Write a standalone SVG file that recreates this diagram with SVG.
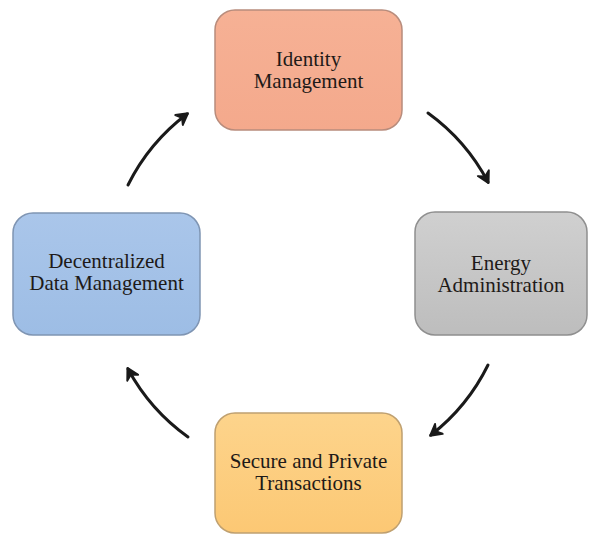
<svg xmlns="http://www.w3.org/2000/svg" width="591" height="535" viewBox="0 0 591 535">
<defs>
<style>
.box{stroke-width:1.5}
.lbl{font-family:"Liberation Serif","Times New Roman",serif;font-size:21px;fill:#1e1a18;text-anchor:middle}
.conn{fill:none;stroke:#1a1a1a;stroke-width:3;stroke-linecap:round;marker-end:url(#ah)}
</style>
<linearGradient id="gOr" x1="0" y1="0" x2="0" y2="1"><stop offset="0" stop-color="#f6b195"/><stop offset="1" stop-color="#f4a98c"/></linearGradient>
<linearGradient id="gGr" x1="0" y1="0" x2="0" y2="1"><stop offset="0" stop-color="#d0d0d0"/><stop offset="1" stop-color="#bdbdbd"/></linearGradient>
<linearGradient id="gYe" x1="0" y1="0" x2="0" y2="1"><stop offset="0" stop-color="#fdd48c"/><stop offset="1" stop-color="#fcc874"/></linearGradient>
<linearGradient id="gBl" x1="0" y1="0" x2="0" y2="1"><stop offset="0" stop-color="#aac6ea"/><stop offset="1" stop-color="#9dbde5"/></linearGradient>
<marker id="ah" viewBox="0 0 12 12" refX="9" refY="6" markerWidth="5" markerHeight="5" orient="auto" markerUnits="strokeWidth">
<path d="M1,1 L10,6 L1,11 L4,6 Z" fill="#1a1a1a" stroke="#1a1a1a" stroke-width="1.5" stroke-linejoin="round"/>
</marker>
</defs>
<g id="connectors">
<path class="conn" d="M128,185 A201,201 0 0 1 187,114"/>
<path class="conn" d="M428,113 A201,201 0 0 1 488,182"/>
<path class="conn" d="M488,365 A201,201 0 0 1 431,435"/>
<path class="conn" d="M188,437 A201,201 0 0 1 128,369"/>
</g>
<g id="identity">
<rect class="box" x="215" y="10" width="187" height="120" rx="20" fill="url(#gOr)" stroke="#b88c7c"/>
<text class="lbl" x="308.5" y="66">Identity</text>
<text class="lbl" x="308.5" y="88">Management</text>
</g>
<g id="energy">
<rect class="box" x="415" y="212" width="172" height="123" rx="20" fill="url(#gGr)" stroke="#8f8f8f"/>
<text class="lbl" x="501" y="270">Energy</text>
<text class="lbl" x="501" y="292">Administration</text>
</g>
<g id="secure">
<rect class="box" x="215" y="413" width="187" height="120" rx="20" fill="url(#gYe)" stroke="#bfa070"/>
<text class="lbl" x="308.5" y="468">Secure and Private</text>
<text class="lbl" x="308.5" y="490">Transactions</text>
</g>
<g id="decentralized">
<rect class="box" x="13" y="213" width="187" height="122" rx="20" fill="url(#gBl)" stroke="#7f95b3"/>
<text class="lbl" x="106.5" y="268">Decentralized</text>
<text class="lbl" x="106.5" y="290">Data Management</text>
</g>
</svg>
